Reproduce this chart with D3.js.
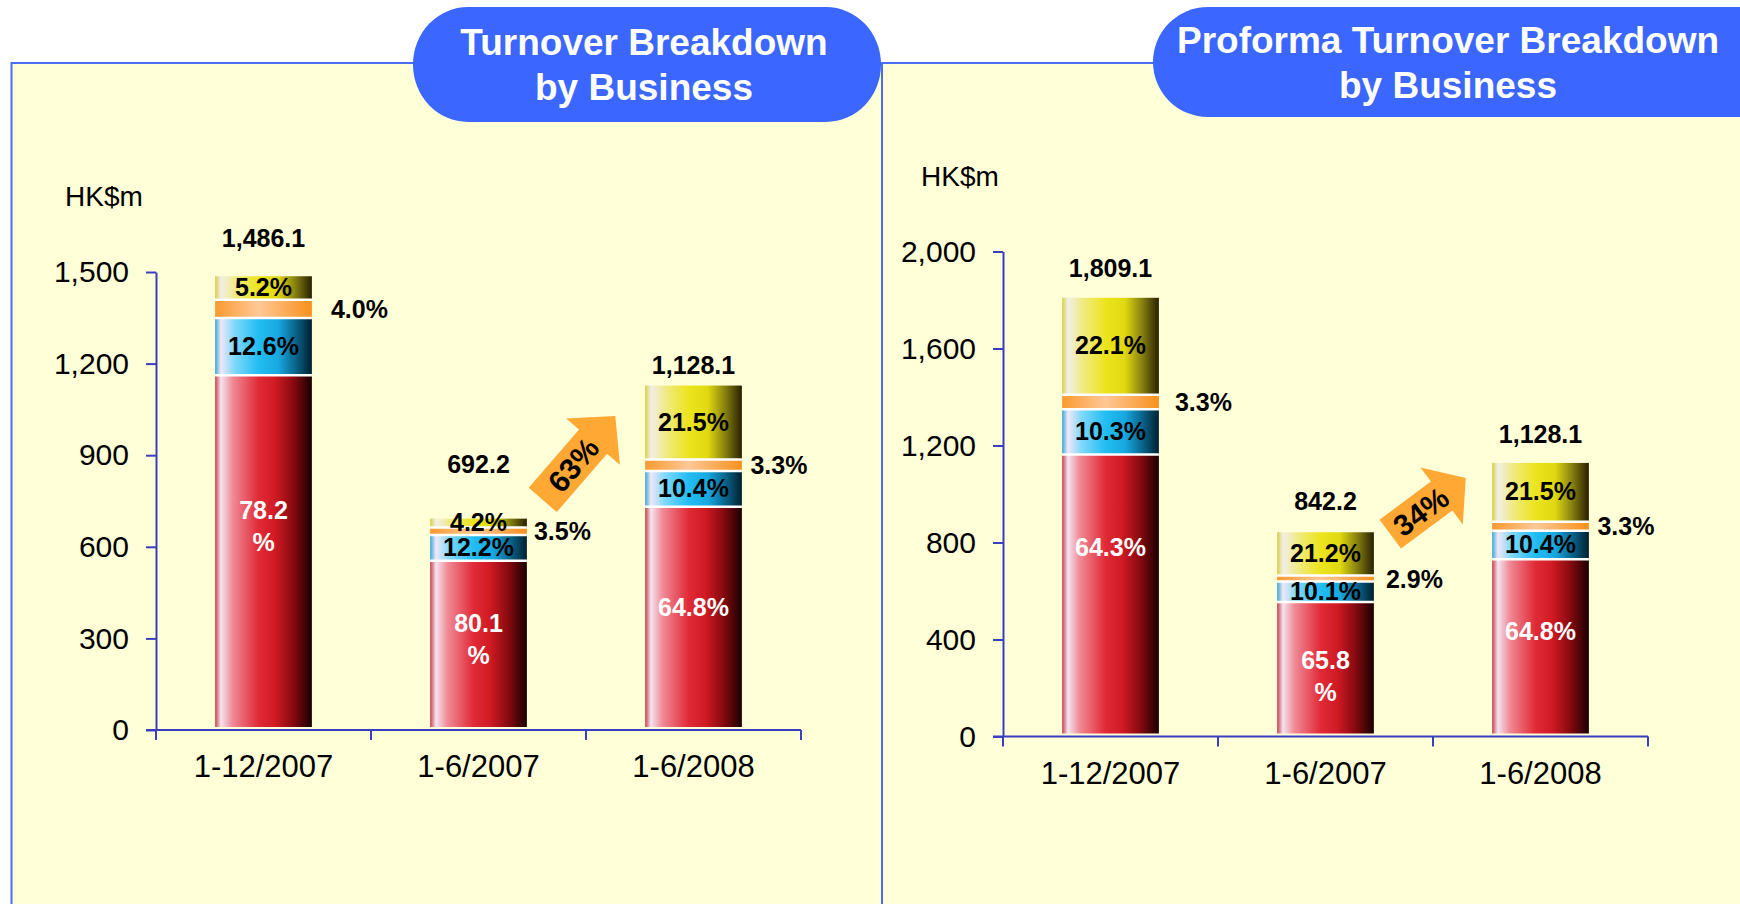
<!DOCTYPE html>
<html>
<head>
<meta charset="utf-8">
<script src="https://cdn.jsdelivr.net/npm/d3@7"></script>
<style>
  html, body { margin: 0; padding: 0; background: #fff; }
  svg { display: block; font-family: "Liberation Sans", Arial, Helvetica, sans-serif; }
</style>
</head>
<body>
<svg id="chart" width="1740" height="904"></svg>
<script>
// periods on the x axis
const categories = ["1-12/2007", "1-6/2007", "1-6/2008"];

// Turnover breakdown: totals in HK$m, share of each business in %
const turnoverTotal  = [1486.1, 692.2, 1128.1];
const turnoverRed    = [78.2, 80.1, 64.8];
const turnoverBlue   = [12.6, 12.2, 10.4];
const turnoverOrange = [4.0, 3.5, 3.3];
const turnoverYellow = [5.2, 4.2, 21.5];
const turnoverTicks  = [0, 300, 600, 900, 1200, 1500];
const turnoverGrowth = 63;

// Proforma turnover breakdown
const proformaTotal  = [1809.1, 842.2, 1128.1];
const proformaRed    = [64.3, 65.8, 64.8];
const proformaBlue   = [10.3, 10.1, 10.4];
const proformaOrange = [3.3, 2.9, 3.3];
const proformaYellow = [22.1, 21.2, 21.5];
const proformaTicks  = [0, 400, 800, 1200, 1600, 2000];
const proformaGrowth = 34;

const svg = d3.select("#chart");
const BG = "#ffffd8", BORDER = "#4a6cf0", PILL = "#3b66ff", AXIS = "#3a3fc0";

// bar gradients (cylinder look)
const defs = svg.append("defs");
const gradStops = {
  red:    [[0,"#c8404c"],[0.06,"#f4e4f0"],[0.18,"#f08a96"],[0.45,"#e02a36"],[0.62,"#d01a24"],[0.8,"#8a0a10"],[1,"#1a0000"]],
  blue:   [[0,"#38a8d8"],[0.06,"#f0e8f8"],[0.2,"#80d8fa"],[0.45,"#22bdf2"],[0.65,"#18a8e0"],[0.82,"#0a6890"],[1,"#002030"]],
  orange: [[0,"#f89a30"],[0.45,"#ffc896"],[1,"#f8901c"]],
  yellow: [[0,"#d8d040"],[0.06,"#f2eee8"],[0.22,"#f0ea80"],[0.45,"#ece41c"],[0.65,"#e0d810"],[0.82,"#8a8410"],[1,"#282000"]]
};
Object.keys(gradStops).forEach(k => {
  const lg = defs.append("linearGradient").attr("id", "g-" + k)
    .attr("x1", 0).attr("x2", 1).attr("y1", 0).attr("y2", 0);
  gradStops[k].forEach(s => lg.append("stop").attr("offset", s[0]).attr("stop-color", s[1]));
});

// panels
svg.append("rect").attr("x", 882).attr("y", 63).attr("width", 900).attr("height", 900)
  .attr("fill", BG).attr("stroke", BORDER).attr("stroke-width", 2);
svg.append("rect").attr("x", 11.5).attr("y", 63).attr("width", 870.5).attr("height", 900)
  .attr("fill", BG).attr("stroke", BORDER).attr("stroke-width", 2);

// title pills
function pill(x, y, w, h, cx, lines, base) {
  svg.append("rect").attr("x", x).attr("y", y).attr("width", w).attr("height", h)
    .attr("rx", 55).attr("ry", h / 2).attr("fill", PILL);
  const t = svg.append("text").attr("text-anchor", "middle").attr("fill", "#fff")
    .style("font-size", "37px").style("font-weight", "bold");
  lines.forEach((l, i) => t.append("tspan").attr("x", cx).attr("y", base + i * 45).text(l));
}
pill(413, 7, 468, 115, 644, ["Turnover Breakdown", "by Business"], 55);
pill(1153, 7, 640, 110, 1448, ["Proforma Turnover Breakdown", "by Business"], 53);

const keys = ["red", "blue", "orange", "yellow"];
const fmtPct = d3.format(".1f");
const fmtTot = d3.format(",.1f");

function drawChart(cfg) {
  const x = d3.scaleBand().domain(categories).range([cfg.left, cfg.right])
    .paddingInner(0.55).paddingOuter(0.275);
  const y = d3.scaleLinear().domain([0, d3.max(cfg.ticks)]).range([cfg.bottom, cfg.top]);
  const bw = x.bandwidth();
  const g = svg.append("g");

  const rows = categories.map((c, i) => ({
    cat: c, i: i, total: cfg.total[i],
    red: cfg.red[i], blue: cfg.blue[i], orange: cfg.orange[i], yellow: cfg.yellow[i]
  }));
  const series = d3.stack().keys(keys).value((d, k) => d.total * d[k] / 100)(rows);

  // stacked segments
  series.forEach(s => {
    g.selectAll(null).data(s).enter().append("rect")
      .attr("x", d => x(d.data.cat))
      .attr("y", d => y(d[1]))
      .attr("width", bw)
      .attr("height", d => Math.max(0, y(d[0]) - y(d[1]) - (s.key === "red" ? 3 : 0)))
      .attr("fill", "url(#g-" + s.key + ")");
  });
  // white separators between segments
  series.slice(0, 3).forEach(s => {
    g.selectAll(null).data(s).enter().append("line")
      .attr("x1", d => x(d.data.cat)).attr("x2", d => x(d.data.cat) + bw)
      .attr("y1", d => y(d[1])).attr("y2", d => y(d[1]))
      .attr("stroke", "#fff").attr("stroke-width", 2.5);
  });

  // axes
  const ya = g.append("g").attr("transform", `translate(${cfg.left},0)`)
    .call(d3.axisLeft(y).tickValues(cfg.ticks).tickSize(10).tickSizeOuter(0)
      .tickPadding(17).tickFormat(d3.format(",")));
  ya.select(".domain").attr("stroke", AXIS).attr("stroke-width", 2);
  ya.selectAll(".tick line").attr("stroke", AXIS).attr("stroke-width", 2);
  ya.selectAll(".tick text").attr("fill", "#000").style("font-size", "30px")
    .style("font-family", "'Liberation Sans', Arial, sans-serif");

  const xa = g.append("g").attr("transform", `translate(0,${cfg.bottom})`)
    .call(d3.axisBottom(x).tickSize(0).tickPadding(25));
  xa.select(".domain").remove();
  xa.selectAll(".tick text").attr("fill", "#000").style("font-size", "31px")
    .style("font-family", "'Liberation Sans', Arial, sans-serif");
  g.append("line").attr("x1", cfg.left - 10).attr("x2", cfg.right)
    .attr("y1", cfg.bottom).attr("y2", cfg.bottom).attr("stroke", AXIS).attr("stroke-width", 2);
  g.selectAll(null).data(d3.range(categories.length + 1)).enter().append("line")
    .attr("x1", i => cfg.left + i * x.step()).attr("x2", i => cfg.left + i * x.step())
    .attr("y1", cfg.bottom).attr("y2", cfg.bottom + 10)
    .attr("stroke", AXIS).attr("stroke-width", 2);

  g.append("text").attr("x", cfg.unitX).attr("y", y.range()[1] - 66)
    .attr("text-anchor", "middle").style("font-size", "28px").text("HK$m");

  const mid = d => (y(d[0]) + y(d[1])) / 2;
  const cx = d => x(d.data.cat) + bw / 2;
  const bold = sel => sel.style("font-size", "25px").style("font-weight", "bold");

  // yellow and blue labels inside the bar
  [series[1], series[3]].forEach(s => {
    g.selectAll(null).data(s).enter().append("text").call(bold)
      .attr("text-anchor", "middle").attr("x", cx).attr("y", d => mid(d) + 8)
      .text((d) => fmtPct(d.data[s.key]) + "%");
  });
  // orange labels to the right of the bar
  g.selectAll(null).data(series[2]).enter().append("text").call(bold)
    .attr("x", d => x(d.data.cat) + bw + cfg.orangeGap[d.data.i])
    .attr("y", d => mid(d) + 9)
    .text(d => fmtPct(d.data.orange) + "%");
  // red labels, white
  g.selectAll(null).data(series[0]).enter().append("text").call(bold)
    .attr("fill", "#fff").attr("text-anchor", "middle")
    .each(function (d) {
      const t = d3.select(this);
      const c = mid(d) + cfg.redShift[d.data.i];
      const v = fmtPct(d.data.red);
      if (cfg.redWrap[d.data.i]) {
        t.append("tspan").attr("x", cx(d)).attr("y", c - 8).text(v);
        t.append("tspan").attr("x", cx(d)).attr("y", c + 24).text("%");
      } else {
        t.attr("x", cx(d)).attr("y", c + 8).text(v + "%");
      }
    });
  // totals above the bars
  g.selectAll(null).data(rows).enter().append("text").call(bold)
    .attr("text-anchor", "middle")
    .attr("x", d => x(d.cat) + bw / 2)
    .attr("y", d => y(d.total) - cfg.totalLift[d.i])
    .text(d => fmtTot(d.total));

  // growth arrow between the last two bars
  const a = cfg.arrow;
  const L = a.len, sw = a.shaft / 2, hw = a.head / 2, hl = a.headLen;
  const ag = g.append("g")
    .attr("transform", `translate(${cfg.left + 2 * x.step() + a.dx},${y(a.v)}) rotate(${a.angle})`);
  ag.append("path").attr("fill", "#ffa834")
    .attr("d", `M${-L / 2},${-sw}L${L / 2 - hl},${-sw}L${L / 2 - hl},${-hw}L${L / 2},0` +
      `L${L / 2 - hl},${hw}L${L / 2 - hl},${sw}L${-L / 2},${sw}Z`);
  ag.append("text").attr("x", -9).attr("y", 0).attr("dy", "0.36em")
    .attr("text-anchor", "middle").style("font-size", "30px").style("font-weight", "bold")
    .text(cfg.growth + "%");
}

drawChart({
  total: turnoverTotal, red: turnoverRed, blue: turnoverBlue,
  orange: turnoverOrange, yellow: turnoverYellow, ticks: turnoverTicks, growth: turnoverGrowth,
  left: 156, right: 801, bottom: 730, top: 272, unitX: 104,
  totalLift: [29, 46, 12], orangeGap: [19, 7, 8.5],
  redShift: [-26, -5, -10], redWrap: [true, true, false],
  arrow: { dx: -7, v: 891, angle: -49.2, len: 111, shaft: 37, head: 71, headLen: 34 }
});

drawChart({
  total: proformaTotal, red: proformaRed, blue: proformaBlue,
  orange: proformaOrange, yellow: proformaYellow, ticks: proformaTicks, growth: proformaGrowth,
  left: 1003, right: 1648, bottom: 736.5, top: 251.5, unitX: 960,
  totalLift: [21, 22, 20], orangeGap: [16, 12, 8.5],
  redShift: [-47, 8, -16], redWrap: [false, true, false],
  arrow: { dx: -5, v: 950, angle: -36.6, len: 94, shaft: 36, head: 71, headLen: 30 }
});
</script>
</body>
</html>
